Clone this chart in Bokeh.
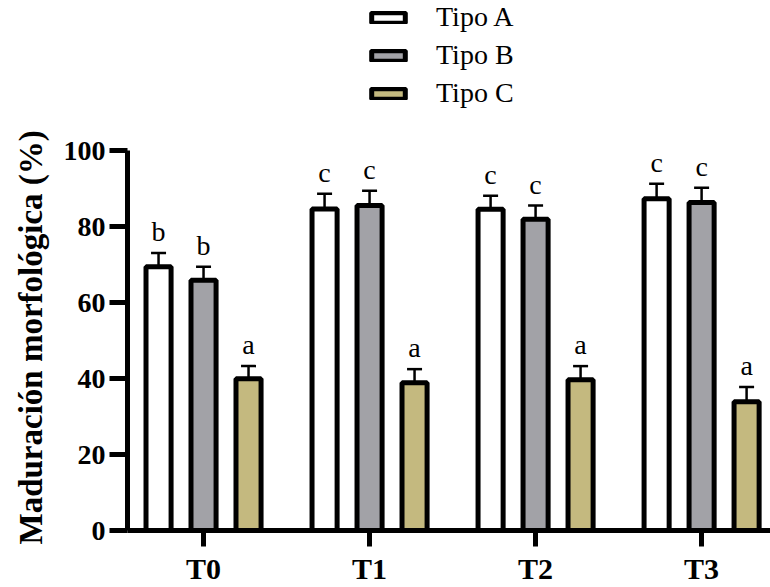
from bokeh.plotting import figure
from bokeh.models import (ColumnDataSource, Range1d, FixedTicker, Whisker, TeeHead,
                          Legend, LegendItem, Title)
from bokeh.transform import dodge
from bokeh.core.properties import value
from bokeh.embed import file_html
from bokeh.resources import INLINE

# ---- data ----
groups = ["T0", "T1", "T2", "T3"]
series = ["Tipo A", "Tipo B", "Tipo C"]
tipo_a = [69.5, 84.7, 84.6, 87.4]
tipo_a_err = [3.6, 4.0, 3.6, 3.9]
tipo_b = [65.9, 85.6, 82.0, 86.4]
tipo_b_err = [3.6, 3.9, 3.6, 3.9]
tipo_c = [40.0, 38.9, 39.7, 33.9]
tipo_c_err = [3.3, 3.6, 3.6, 3.9]
letters_a = ["b", "c", "c", "c"]
letters_b = ["b", "c", "c", "c"]
letters_c = ["a", "a", "a", "a"]
y_ticks = [0, 20, 40, 60, 80, 100]
y_title = "Maduración morfológica (%)"

colors = ["#ffffff", "#a2a2a7", "#c4b97f"]
offsets = [-0.271, 0.0, 0.271]
FONT = "Liberation Serif"

p = figure(width=770, height=587, output_backend="svg", toolbar_location=None,
           x_range=Range1d(-0.458, 3.415), y_range=Range1d(0, 139.6),
           min_border_left=127, min_border_right=0, min_border_top=0,
           min_border_bottom=55)
p.outline_line_color = None
p.xgrid.visible = False
p.ygrid.visible = False
p.background_fill_color = "white"

xs = list(range(len(groups)))
items = []
for name, vals, errs, lets, col, off in zip(series, [tipo_a, tipo_b, tipo_c],
                                            [tipo_a_err, tipo_b_err, tipo_c_err],
                                            [letters_a, letters_b, letters_c],
                                            colors, offsets):
    src = ColumnDataSource(dict(
        x=xs, top=vals,
        upper=[v + e for v, e in zip(vals, errs)],
        lower=[v - e for v, e in zip(vals, errs)],
        letter=lets))
    r = p.vbar(x=dodge("x", off), top="top", bottom=0, width=0.151, source=src,
               fill_color=col, line_color="black", line_width=5)
    items.append(LegendItem(label=name, renderers=[r]))
    w = Whisker(base=dodge("x", off), upper="upper", lower="lower", source=src,
                dimension="height", line_width=2.5, line_color="black",
                upper_head=TeeHead(size=15, line_width=2.5, line_color="black"),
                lower_head=TeeHead(size=15, line_width=2.5, line_color="black"))
    p.add_layout(w)
    p.text(x=dodge("x", off), y="upper", text="letter", source=src,
           y_offset=-6, text_align="center", text_baseline="bottom",
           text_font=value(FONT), text_font_size="28px", text_color="black")

# axes
p.xaxis.ticker = FixedTicker(ticks=xs)
p.xaxis.major_label_overrides = {i: g for i, g in enumerate(groups)}
p.yaxis.ticker = FixedTicker(ticks=y_ticks)
p.yaxis.bounds = (0, 100)
for ax in (p.xaxis, p.yaxis):
    ax.axis_line_width = 5
    ax.axis_line_color = "black"
    ax.major_tick_line_width = 5
    ax.major_tick_line_color = "black"
    ax.major_tick_in = 0
    ax.minor_tick_line_color = None
    ax.major_label_text_font = FONT
    ax.major_label_text_font_style = "bold"
    ax.major_label_text_color = "black"
p.yaxis.major_tick_out = 18
p.xaxis.major_tick_out = 16
p.yaxis.major_label_text_font_size = "28px"
p.xaxis.major_label_text_font_size = "30px"
p.yaxis.major_label_standoff = 4
p.xaxis.major_label_standoff = 5

ytitle = Title(text=y_title, align="left", offset=-14, vertical_align="top",
               text_font=FONT, text_font_style="bold", text_font_size="33px",
               text_color="black", standoff=20)
p.add_layout(ytitle, "left")

legend = Legend(items=items, orientation="vertical", location=(240, 421),
                glyph_width=42, glyph_height=13, label_standoff=27,
                label_text_font=FONT, label_text_font_size="28px",
                label_text_color="black",
                label_height=24, spacing=6, padding=0, margin=0,
                border_line_color=None, background_fill_alpha=0)
p.add_layout(legend, "center")

open("out.html", "w").write(file_html(p, INLINE))
